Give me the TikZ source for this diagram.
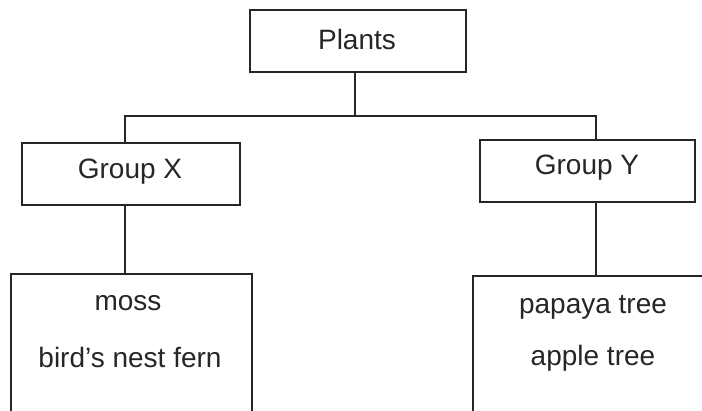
\documentclass[tikz,border=0pt]{standalone}
\usepackage{fontspec}
\setmainfont{Liberation Sans}
\begin{document}
\begin{tikzpicture}[x=1pt,y=-1pt,
  box/.style={draw=black!85, line width=1.6pt, inner sep=0pt, minimum width=#1},
  conn/.style={draw=black!85, line width=1.6pt},
  lbl/.style={font=\fontsize{28}{32}\selectfont, inner sep=0pt, text=black!85}]
\useasboundingbox (0,0) rectangle (702,411);
\clip (0,0) rectangle (702,411);
\node[box=216pt, minimum height=62pt] (plants) at (358,41) {};
\node[lbl] (tp) at (357,39) {Plants};
\node[box=218pt, minimum height=62pt] (gx) at (131,174) {};
\node[lbl] (tgx) at (130,172) {Group X};
\node[box=215pt, minimum height=62pt] (gy) at (587.5,171) {};
\node[lbl] (tgy) at (587,168) {Group Y};
\node[box=241pt, minimum height=166pt] (bl) at (131.5,357) {};
\node[lbl] (t1) at (128,303) {moss};
\node[lbl] (t2) at (130,357) {bird’s nest fern};
\node[box=247pt, minimum height=164pt] (br) at (596.5,358) {};
\node[lbl] (t3) at (593,307) {papaya tree};
\node[lbl] (t4) at (593,358) {apple tree};
\coordinate (j) at (355,116);
\coordinate (lx) at (125,116);
\coordinate (rx) at (596,116);
\draw[conn] (plants.south -| j) -- (j);
\draw[conn] (gx.north -| lx) -- (lx) -- (rx) -- (gy.north -| rx);
\draw[conn] (gx.south -| lx) -- (bl.north -| lx);
\draw[conn] (gy.south -| rx) -- (br.north -| rx);
\end{tikzpicture}
\end{document}
